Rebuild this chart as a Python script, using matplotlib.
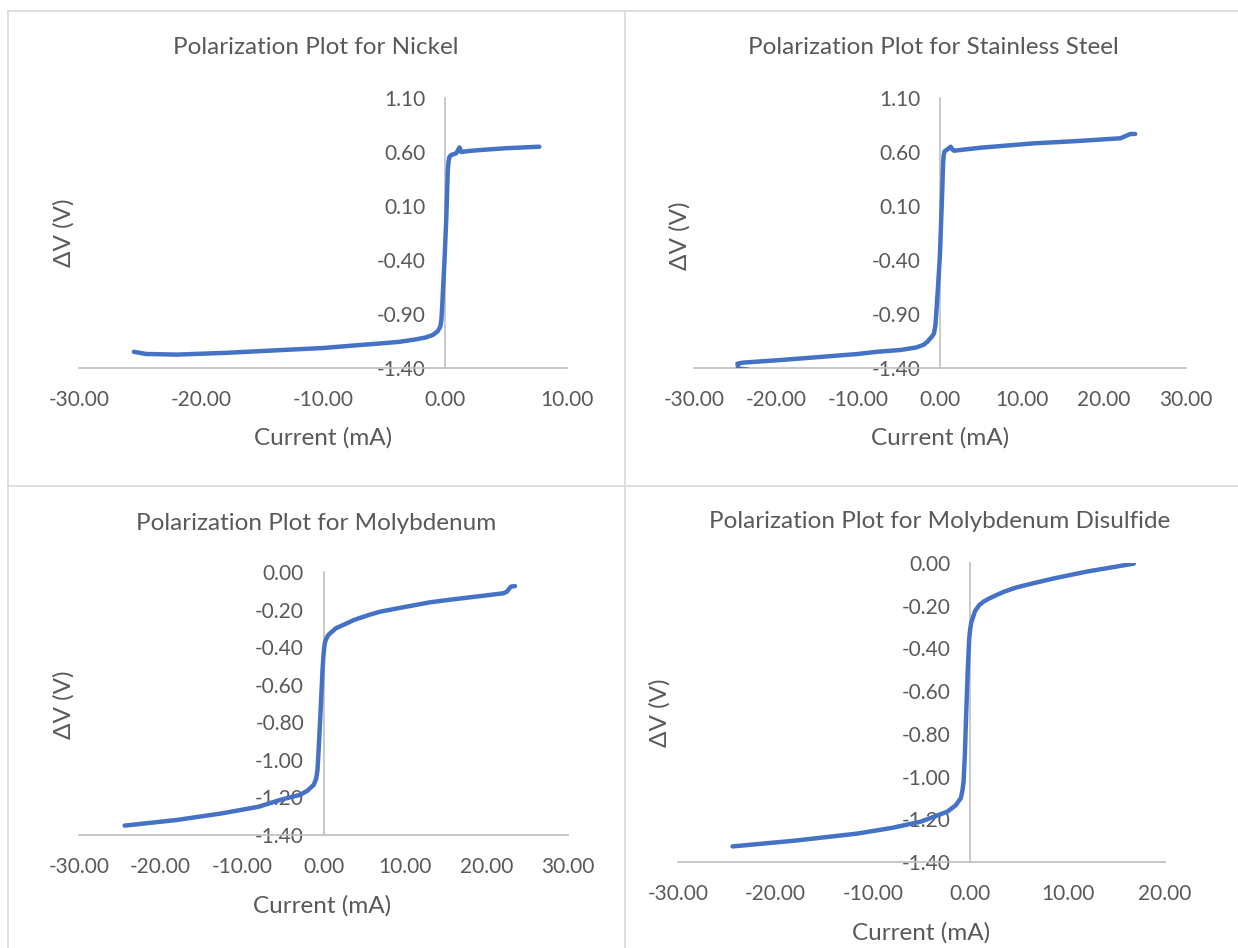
import numpy as np
import matplotlib.pyplot as plt
from matplotlib.lines import Line2D

plt.rcParams['font.family'] = ['Lato', 'DejaVu Sans']

# Nickel
ni_i = [-25.5, -24.5, -22.0, -18.0, -13.8, -10.0, -7.3, -5.0, -3.7, -2.5, -1.6, -1.0, -0.6, -0.39, -0.3,
        -0.23, -0.04, 0.1, 0.23, 0.3, 0.37, 0.5, 0.92, 1.19, 1.33, 2.0, 3.1, 5.0, 7.73]
ni_v = [-1.25, -1.27, -1.276, -1.26, -1.236, -1.215, -1.19, -1.17, -1.157, -1.137, -1.118, -1.094, -1.06, -1.018, -0.96,
        -0.83, -0.40, -0.03, 0.433, 0.52, 0.557, 0.572, 0.588, 0.643, 0.60, 0.61, 0.62, 0.635, 0.649]

# Stainless steel
ss_i = [-23.4, -24.6, -24.7, -24.0, -19.4, -15.0, -10.0, -7.7, -4.8, -2.9, -2.0, -1.53, -1.0, -0.73, -0.55,
        -0.40, -0.2, 0.0, 0.29, 0.38, 0.45, 0.55, 0.8, 1.0, 1.3, 1.5, 1.7, 5.0, 11.4, 16.4, 22.0, 22.7, 23.2, 23.8]
ss_v = [-1.415, -1.405, -1.36, -1.35, -1.326, -1.30, -1.27, -1.25, -1.233, -1.21, -1.185, -1.156, -1.11, -1.08, -1.0,
        -0.83, -0.6, -0.338, 0.279, 0.5, 0.57, 0.605, 0.62, 0.63, 0.649, 0.625, 0.612, 0.64, 0.68, 0.70, 0.727, 0.75, 0.767, 0.767]

# Molybdenum
mo_i = [-24.4, -18.0, -12.5, -8.0, -5.3, -2.87, -2.0, -1.2, -0.9, -0.74, -0.6, -0.41, -0.12, 0.0, 0.12,
        0.25, 0.4, 0.6, 0.82, 1.2, 1.5, 2.0, 2.87, 3.7, 4.5, 5.7, 6.97, 10.0, 13.1, 16.0, 19.3, 22.1, 22.5,
        22.8, 23.0, 23.5]
mo_v = [-1.35, -1.32, -1.285, -1.25, -1.213, -1.186, -1.165, -1.133, -1.10, -1.054, -0.95, -0.788, -0.522, -0.44, -0.389,
        -0.365, -0.35, -0.335, -0.326, -0.312, -0.30, -0.29, -0.273, -0.256, -0.244, -0.227, -0.211, -0.186, -0.161,
        -0.145, -0.128, -0.113, -0.105, -0.088, -0.078, -0.075]

# Molybdenum disulfide
ms_i = [-24.4, -18.0, -11.6, -8.0, -5.07, -2.33, -1.5, -0.96, -0.78, -0.68, -0.55, -0.44, -0.25, -0.1, 0.0,
        0.1, 0.25, 0.5, 0.93, 1.4, 2.0, 2.7, 3.5, 4.7, 6.0, 8.6, 12.0, 15.5, 16.8]
ms_v = [-1.327, -1.30, -1.267, -1.24, -1.211, -1.164, -1.135, -1.101, -1.06, -1.024, -0.90, -0.743, -0.5, -0.353, -0.31,
        -0.28, -0.259, -0.225, -0.197, -0.18, -0.165, -0.15, -0.134, -0.115, -0.10, -0.072, -0.04, -0.013, -0.003]

W, H = 1238, 948
fig = plt.figure(figsize=(W / 100, H / 100), dpi=100)

grey = '#595959'
blue = '#4472C4'


def px_rect(l, t, r, b):
    return [l / W, 1 - b / H, (r - l) / W, (b - t) / H]


charts = [
    # title, x, y, rect, xlim, yticks, title pos, ylabel pos, xlabel pos
    ('Polarization Plot for Nickel', ni_i, ni_v, (79, 98, 567, 368), (-30, 10),
     np.round(np.arange(-1.4, 1.11, 0.5), 2), (316, 48), (64, 233), (323, 438)),
    ('Polarization Plot for Stainless Steel', ss_i, ss_v, (694, 98, 1186, 368), (-30, 30),
     np.round(np.arange(-1.4, 1.11, 0.5), 2), (933, 48), (680, 236), (940, 438)),
    ('Polarization Plot for Molybdenum', mo_i, mo_v, (79, 572, 568, 835), (-30, 30),
     np.round(np.arange(-1.4, 0.01, 0.2), 2), (316, 523), (64, 705), (322, 906)),
    ('Polarization Plot for Molybdenum Disulfide', ms_i, ms_v, (678, 563, 1165, 862), (-30, 20),
     np.round(np.arange(-1.4, 0.01, 0.2), 2), (940, 522), (660, 713), (921, 933)),
]


def fmt(v, p):
    return '%.2f' % (round(v, 2) + 0.0)


for title, xs, ys, rect, xlim, yt, tpos, ylpos, xlpos in charts:
    ax = fig.add_axes(px_rect(*rect))
    ax.plot(xs, ys, color=blue, lw=3.2, solid_joinstyle='round', solid_capstyle='round', zorder=3)
    ax.set_xlim(*xlim)
    ax.set_ylim(yt[0], yt[-1])
    ax.set_yticks(yt)
    ax.set_xticks(np.arange(xlim[0], xlim[1] + 0.1, 10))
    ax.yaxis.set_major_formatter(plt.FuncFormatter(fmt))
    ax.xaxis.set_major_formatter(plt.FuncFormatter(fmt))
    for s in ['top', 'right']:
        ax.spines[s].set_visible(False)
    ax.spines['left'].set_position(('data', 0))
    for s in ['left', 'bottom']:
        ax.spines[s].set_color('#BFBFBF')
        ax.spines[s].set_linewidth(1.2)
    ax.tick_params(axis='y', length=0, pad=14, labelsize=15, labelcolor=grey)
    ax.tick_params(axis='x', length=0, pad=16, labelsize=15, labelcolor=grey)
    ax.patch.set_alpha(0)
    fig.text(tpos[0] / W, 1 - tpos[1] / H, title, ha='center', va='center', fontsize=17.5, color=grey)
    fig.text(ylpos[0] / W, 1 - ylpos[1] / H, 'ΔV (V)', ha='center', va='center', rotation=90,
             fontsize=17.5, color=grey)
    fig.text(xlpos[0] / W, 1 - xlpos[1] / H, 'Current (mA)', ha='center', va='center', fontsize=17.5, color=grey)

# chart borders
bc = '#D9D9D9'
fig.add_artist(Line2D([8 / W, 1], [1 - 11 / H] * 2, color=bc, lw=1.2))
fig.add_artist(Line2D([8 / W] * 2, [0, 1 - 11 / H], color=bc, lw=1.2))
fig.add_artist(Line2D([625 / W] * 2, [0, 1 - 11 / H], color=bc, lw=1.2))
fig.add_artist(Line2D([8 / W, 1], [1 - 486 / H] * 2, color=bc, lw=1.2))

fig.savefig('out.png', dpi=100)
